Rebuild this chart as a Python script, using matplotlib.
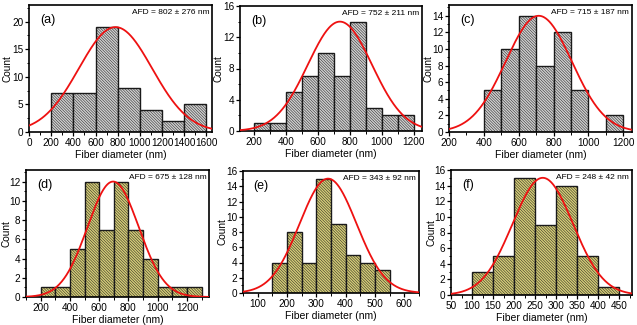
import numpy as np
import matplotlib
matplotlib.use("Agg")
import matplotlib.pyplot as plt
from matplotlib.ticker import MultipleLocator

plt.rcParams['font.family'] = ['Liberation Sans', 'DejaVu Sans']
plt.rcParams['hatch.linewidth'] = 0.35

# ---- data ----
labels = ["(a)", "(b)", "(c)", "(d)", "(e)", "(f)"]
afd_texts = ["AFD = 802 \u00b1 276 nm", "AFD = 752 \u00b1 211 nm", "AFD = 715 \u00b1 187 nm",
             "AFD = 675 \u00b1 128 nm", "AFD = 343 \u00b1 92 nm", "AFD = 248 \u00b1 42 nm"]

edges_a = [200, 400, 600, 800, 1000, 1200, 1400, 1600]
counts_a = [7, 7, 19, 8, 4, 2, 5]
edges_b = [200, 300, 400, 500, 600, 700, 800, 900, 1000, 1100, 1200]
counts_b = [1, 1, 5, 7, 10, 7, 14, 3, 2, 2]
edges_c = [400, 500, 600, 700, 800, 900, 1000, 1100, 1200]
counts_c = [5, 10, 14, 8, 12, 5, 0, 2]
edges_d = [200, 300, 400, 500, 600, 700, 800, 900, 1000, 1100, 1200, 1300]
counts_d = [1, 1, 5, 12, 7, 12, 7, 4, 1, 1, 1]
edges_e = [150, 200, 250, 300, 350, 400, 450, 500, 550]
counts_e = [4, 8, 4, 15, 9, 5, 4, 3]
edges_f = [100, 150, 200, 250, 300, 350, 400, 450]
counts_f = [3, 5, 15, 9, 14, 5, 1]

# Gaussian fit parameters (center, width, amplitude)
fit_center = [780, 738, 715, 695, 340, 268]
fit_width = [330, 200, 190, 175, 97, 72]
fit_amp = [19, 14, 14, 12, 15, 15]

xlims = [(0, 1650), (115, 1250), (200, 1250), (100, 1350), (50, 650), (50, 480)]
ylims = [(0, 23), (0, 16), (0, 15.3), (0, 13.2), (0, 16), (0, 16)]
xmajor = [200, 200, 200, 200, 100, 50]
xminor = [100, 100, 100, 100, 50, 25]
xtick_start = [0, 200, 200, 200, 100, 50]
ymajor = [5, 4, 2, 2, 2, 2]
yminor = [2.5, 2, 1, 1, 1, 1]

edges_all = [edges_a, edges_b, edges_c, edges_d, edges_e, edges_f]
counts_all = [counts_a, counts_b, counts_c, counts_d, counts_e, counts_f]
colors = ["#d0d0d0"] * 3 + ["#d6ce78"] * 3

# axes rectangles in pixels (left, right, top, bottom)
W, H = 637, 325
rects = [(29, 212, 5, 132), (240, 422, 6, 131), (449, 632, 5, 132),
         (26, 209, 170, 297), (243, 419, 171, 293), (451, 632, 170, 295)]
ylabel_x = [8, 219, 429, 7.5, 223, 432]   # centre of "Count" label, px

fig = plt.figure(figsize=(W / 100, H / 100), dpi=100)

for i in range(6):
    l, r, t, b = rects[i]
    ax = fig.add_axes([l / W, 1 - b / H, (r - l) / W, (b - t) / H])
    e = np.array(edges_all[i])
    c = np.array(counts_all[i])
    ax.bar(e[:-1], c, width=np.diff(e), align='edge', color=colors[i],
           edgecolor='#1a1a1a', linewidth=1.0, hatch='\\' * 12, zorder=2)
    xs = np.linspace(xlims[i][0], xlims[i][1], 400)
    ys = fit_amp[i] * np.exp(-(xs - fit_center[i]) ** 2 / (2 * fit_width[i] ** 2))
    ax.plot(xs, ys, color='#ee1111', lw=1.3, zorder=3)
    ax.set_xlim(*xlims[i])
    ax.set_ylim(*ylims[i])
    ax.xaxis.set_major_locator(MultipleLocator(xmajor[i]))
    ax.xaxis.set_minor_locator(MultipleLocator(xminor[i]))
    ax.yaxis.set_major_locator(MultipleLocator(ymajor[i]))
    ax.yaxis.set_minor_locator(MultipleLocator(yminor[i]))
    ticks = [v for v in np.arange(xtick_start[i], xlims[i][1] + 1, xmajor[i])]
    ax.set_xticks(ticks)
    ax.tick_params(which='major', direction='out', length=3, width=0.9, labelsize=7.2, pad=1)
    ax.tick_params(which='minor', direction='out', length=1.8, width=0.7)
    for s in ax.spines.values():
        s.set_linewidth(1.2)
    ax.set_xlabel("Fiber diameter (nm)", fontsize=7.5, labelpad=2)
    ax.set_ylabel("Count", fontsize=7.2)
    ax.yaxis.set_label_coords((ylabel_x[i] + 4.5 - l) / (r - l), 0.5)
    ax.text(0.06, 0.93, labels[i], transform=ax.transAxes, fontsize=9,
            ha='left', va='top')
    ax.text(0.985, 0.965, afd_texts[i], transform=ax.transAxes, fontsize=6,
            ha='right', va='top')

fig.savefig("out.png", dpi=100)
